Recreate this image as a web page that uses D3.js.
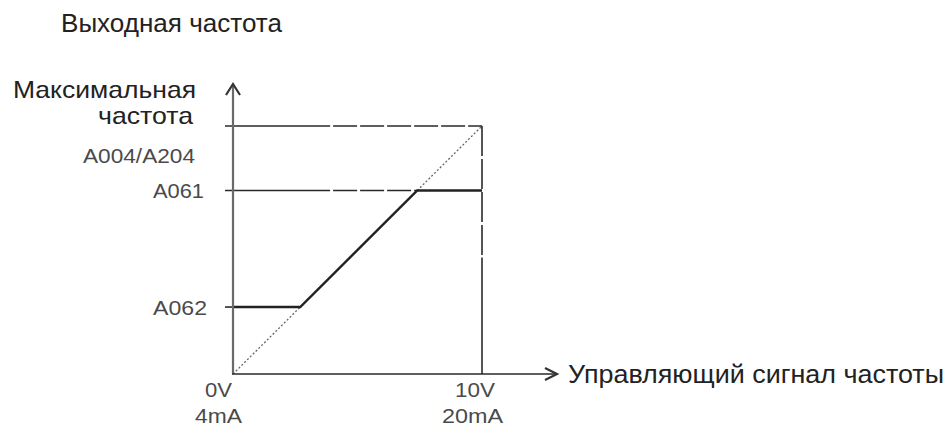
<!DOCTYPE html>
<html><head><meta charset="utf-8">
<script src="https://cdn.jsdelivr.net/npm/d3@7"></script>
<style>
html,body{margin:0;padding:0;background:#fff;}
svg{display:block;font-family:"Liberation Sans",Arial,sans-serif;}
</style></head>
<body><svg id="c" width="947" height="429"></svg>
<script>
// ---- data ----
const titleY = "Выходная частота";
const titleX = "Управляющий сигнал частоты";
const yMaxLabel = ["Максимальная", "частота"];
const yLevels = [            // output frequency levels (% of max)
  {key: "max",  value: 100, label: "A004/A204"},
  {key: "A061", value: 74,  label: "A061"},
  {key: "A062", value: 27,  label: "A062"}
];
const xTicks = [0, 10];                       // V
const xTickLabels = [["0V", "4mA"], ["10V", "20mA"]];
const refLine = [[0, 0], [10, 100]];          // proportional reference (dotted)
const outX = [0, 2.7, 7.4, 10];               // output characteristic
const outY = [27, 27, 74, 74];
const dashStartX = 3.9;                       // where horizontal guides turn dashed
const dashEndY = 47;                          // where 10V guide turns solid

// ---- layout ----
const svg = d3.select("#c");
const x = d3.scaleLinear().domain([0, 10]).range([233, 482]);
const y = d3.scaleLinear().domain([0, 100]).range([374, 126]);
const line = d3.line().x(d => x(d[0])).y(d => y(d[1]));
const ink = "#2a2a2a", grey = "#4a4a4a";

function fitText(sel, w) {
  return sel.attr("textLength", w).attr("lengthAdjust", "spacingAndGlyphs");
}

// titles
fitText(svg.append("text").attr("x", 61).attr("y", 32).attr("font-size", 25)
  .attr("fill", "#222").text(titleY), 221);
fitText(svg.append("text").attr("x", 13).attr("y", 98).attr("font-size", 24)
  .attr("fill", "#222").text(yMaxLabel[0]), 183);
fitText(svg.append("text").attr("x", 98).attr("y", 124).attr("font-size", 24)
  .attr("fill", "#222").text(yMaxLabel[1]), 95);

// dotted reference diagonal
svg.append("path").attr("d", line(refLine)).attr("fill", "none")
  .attr("stroke", "#666").attr("stroke-width", 1.3).attr("stroke-dasharray", "2,2");

// horizontal guides
const maxV = yLevels[0].value, a061 = yLevels[1].value, a062 = yLevels[2].value;
svg.append("line").attr("x1", x(0) - 8).attr("x2", x(dashStartX))
  .attr("y1", y(maxV)).attr("y2", y(maxV)).attr("stroke", ink).attr("stroke-width", 1.6);
svg.append("line").attr("x1", x(dashStartX)).attr("x2", x(10))
  .attr("y1", y(maxV)).attr("y2", y(maxV)).attr("stroke", ink).attr("stroke-width", 1.6)
  .attr("stroke-dasharray", "24,3").attr("stroke-dashoffset", -3);
svg.append("line").attr("x1", x(0) - 8).attr("x2", x(dashStartX))
  .attr("y1", y(a061)).attr("y2", y(a061)).attr("stroke", ink).attr("stroke-width", 1.6);
svg.append("line").attr("x1", x(dashStartX)).attr("x2", x(outX[2]))
  .attr("y1", y(a061)).attr("y2", y(a061)).attr("stroke", ink).attr("stroke-width", 1.6)
  .attr("stroke-dasharray", "24,3").attr("stroke-dashoffset", -3);
svg.append("line").attr("x1", x(0) - 8).attr("x2", x(0))
  .attr("y1", y(a062)).attr("y2", y(a062)).attr("stroke", ink).attr("stroke-width", 1.6);

// 10V vertical guide
svg.append("line").attr("x1", x(10)).attr("x2", x(10))
  .attr("y1", y(maxV)).attr("y2", y(dashEndY)).attr("stroke", ink).attr("stroke-width", 1.6)
  .attr("stroke-dasharray", "30,3");
svg.append("line").attr("x1", x(10)).attr("x2", x(10))
  .attr("y1", y(dashEndY)).attr("y2", y(0)).attr("stroke", ink).attr("stroke-width", 1.6);

// output characteristic
svg.append("path").attr("d", line(outX.map((v, i) => [v, outY[i]])))
  .attr("fill", "none").attr("stroke", "#222").attr("stroke-width", 2.4);

// axes
svg.append("line").attr("x1", x(0)).attr("x2", x(0)).attr("y1", y(0)).attr("y2", 84)
  .attr("stroke", "#6a6a6a").attr("stroke-width", 2.2);
svg.append("path").attr("d", `M${x(0)-7},${95} L${x(0)},${84} L${x(0)+7},${95}`)
  .attr("fill", "none").attr("stroke", "#333").attr("stroke-width", 2.2);
svg.append("line").attr("x1", x(0) - 1).attr("x2", 556).attr("y1", y(0)).attr("y2", y(0))
  .attr("stroke", ink).attr("stroke-width", 1.7);
svg.append("path").attr("d", `M${545},${y(0)-6} L${557},${y(0)} L${545},${y(0)+6}`)
  .attr("fill", "none").attr("stroke", "#333").attr("stroke-width", 2.2);
fitText(svg.append("text").attr("x", 568).attr("y", 383).attr("font-size", 25)
  .attr("fill", "#222").text(titleX), 376);

// y level labels
const labelLeft = {max: 83, A061: 153, A062: 153};
const labelW = {max: 112, A061: 51, A062: 54};
const labelDy = {max: 37, A061: 8, A062: 8};
svg.selectAll("text.yl").data(yLevels).join("text").attr("class", "yl")
  .attr("x", d => labelLeft[d.key]).attr("y", d => y(d.value) + labelDy[d.key])
  .attr("font-size", 21).attr("fill", grey)
  .attr("textLength", d => labelW[d.key]).attr("lengthAdjust", "spacingAndGlyphs")
  .text(d => d.label);

// x tick labels
const tickLeft = [[205, 195], [455, 442]];
const tickW = [[27, 47], [40, 61]];
const tickG = svg.selectAll("g.xt").data(xTicks).join("g").attr("class", "xt");
tickG.append("text").attr("x", (d, i) => tickLeft[i][0]).attr("y", 397)
  .attr("font-size", 21).attr("fill", grey)
  .attr("textLength", (d, i) => tickW[i][0]).attr("lengthAdjust", "spacingAndGlyphs")
  .text((d, i) => xTickLabels[i][0]);
tickG.append("text").attr("x", (d, i) => tickLeft[i][1]).attr("y", 423)
  .attr("font-size", 21).attr("fill", grey)
  .attr("textLength", (d, i) => tickW[i][1]).attr("lengthAdjust", "spacingAndGlyphs")
  .text((d, i) => xTickLabels[i][1]);
</script></body></html>
